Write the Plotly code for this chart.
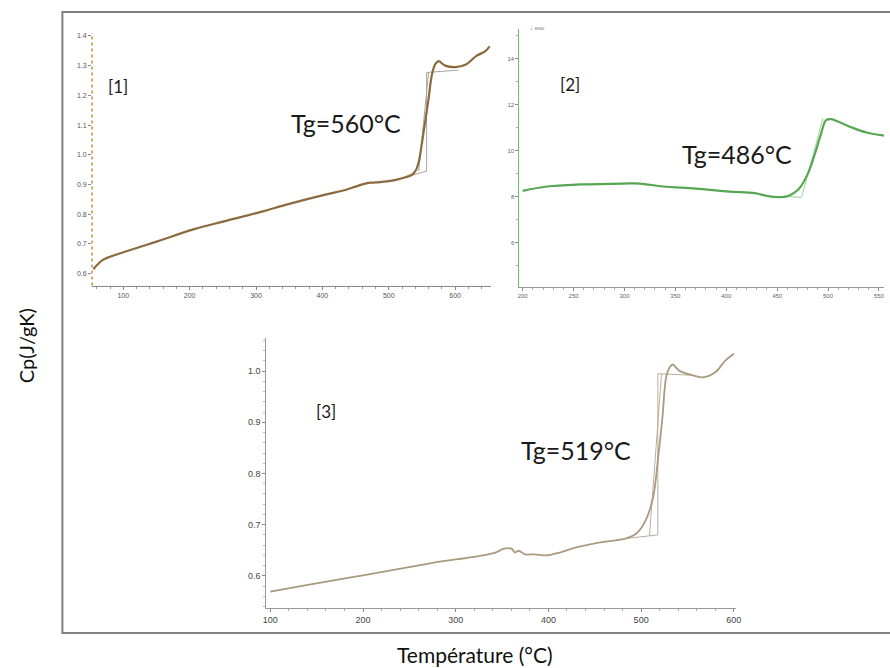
import plotly.graph_objects as go

# ---------- data ----------
# Panel [1]
t1 = [55, 60, 68, 80, 100, 150, 207, 250, 306, 350, 406, 430, 450, 466, 480, 505, 520, 535, 540, 545, 550, 555, 560, 565, 570, 575, 585, 600, 617, 632, 645, 652]
cp1 = [0.615, 0.628, 0.645, 0.657, 0.672, 0.708, 0.750, 0.775, 0.807, 0.835, 0.867, 0.879, 0.893, 0.904, 0.907, 0.913, 0.921, 0.933, 0.945, 0.975, 1.04, 1.115, 1.19, 1.27, 1.305, 1.315, 1.30, 1.295, 1.305, 1.333, 1.348, 1.365]
c1_x = [530, 557, None, 557, 557, None, 557, 605, None, 545, 560]
c1_y = [0.928, 0.945, None, 0.945, 1.277, None, 1.277, 1.285, None, 0.945, 1.277]

# Panel [2]
t2 = [200, 224, 257, 299, 315, 338, 370, 403, 428, 441, 451, 461, 471, 480, 487, 493, 498, 503, 512, 525, 538, 555]
cp2 = [8.26, 8.45, 8.54, 8.58, 8.58, 8.45, 8.36, 8.23, 8.16, 8.03, 7.99, 8.04, 8.33, 8.99, 9.86, 10.72, 11.33, 11.38, 11.23, 10.99, 10.80, 10.66]
c2_x = [457, 474, None, 474, 495]
c2_y = [8.04, 7.97, None, 7.97, 11.42]

# Panel [3]
t3 = [100, 139, 200, 271, 342, 352, 360, 364, 368, 375, 385, 399, 413, 431, 449, 466, 484, 495, 505, 513, 518, 523, 527, 531, 534, 541, 555, 566, 580, 591, 600]
cp3 = [0.569, 0.582, 0.601, 0.624, 0.645, 0.653, 0.653, 0.646, 0.649, 0.642, 0.642, 0.640, 0.646, 0.656, 0.663, 0.668, 0.673, 0.683, 0.709, 0.754, 0.826, 0.910, 0.988, 1.008, 1.013, 1.001, 0.992, 0.988, 0.998, 1.021, 1.034]
c3_x = [484, 518, None, 518, 518, None, 518, 555, None, 509, 522]
c3_y = [0.673, 0.680, None, 0.680, 0.995, None, 0.995, 0.992, None, 0.678, 0.995]

W, H = 890, 668

def px_x(p):
    return p / W

def px_y(p):
    return 1 - p / H

fig = go.Figure()

fig.add_trace(go.Scatter(x=c1_x, y=c1_y, mode="lines", line=dict(color="#a9a39a", width=1), xaxis="x", yaxis="y", showlegend=False))
fig.add_trace(go.Scatter(x=t1, y=cp1, mode="lines", line=dict(color="#8B6A3E", width=2.2, shape="spline"), xaxis="x", yaxis="y", showlegend=False))

fig.add_trace(go.Scatter(x=c2_x, y=c2_y, mode="lines", line=dict(color="#9fd49c", width=1), xaxis="x2", yaxis="y2", showlegend=False))
fig.add_trace(go.Scatter(x=t2, y=cp2, mode="lines", line=dict(color="#56A653", width=2.2, shape="spline"), xaxis="x2", yaxis="y2", showlegend=False))

fig.add_trace(go.Scatter(x=c3_x, y=c3_y, mode="lines", line=dict(color="#b9ae9c", width=1), xaxis="x3", yaxis="y3", showlegend=False))
fig.add_trace(go.Scatter(x=t3, y=cp3, mode="lines", line=dict(color="#A99A80", width=1.8, shape="spline"), xaxis="x3", yaxis="y3", showlegend=False))

tickfont_small = dict(family="Liberation Sans", size=7, color="#555")
tickfont_mid = dict(family="Liberation Sans", size=9, color="#444")

common = dict(showgrid=False, zeroline=False, ticks="outside", ticklen=3, tickcolor="#888", linewidth=1)

fig.update_layout(
    width=W, height=H,
    margin=dict(l=0, r=0, t=0, b=0),
    paper_bgcolor="white", plot_bgcolor="rgba(0,0,0,0)",
    showlegend=False,
    xaxis=dict(domain=[px_x(90), px_x(493)], range=[53, 654], anchor="y", tickvals=[100, 200, 300, 400, 500, 600],
               tickfont=tickfont_small, linecolor="#888", showline=True,
               minor=dict(ticks="outside", ticklen=2, dtick=20, tickcolor="#999"), **common),
    yaxis=dict(domain=[px_y(285), px_y(32)], range=[0.56, 1.41], anchor="x", tickvals=[0.6, 0.7, 0.8, 0.9, 1.0, 1.1, 1.2, 1.3, 1.4],
               ticktext=["0.6", "0.7", "0.8", "0.9", "1.0", "1.1", "1.2", "1.3", "1.4"],
               tickfont=tickfont_small, showline=False, **common),
    xaxis2=dict(domain=[px_x(521.7), 1.0], range=[196.8, 555], anchor="y2", tickvals=[200, 250, 300, 350, 400, 450, 500, 550],
                tickfont=dict(family="Liberation Sans", size=6, color="#666"), linecolor="#999", showline=True,
                minor=dict(ticks="outside", ticklen=2, dtick=10, tickcolor="#aaa"), **common),
    yaxis2=dict(domain=[px_y(286.7), px_y(28)], range=[4.07, 15.3], anchor="x2", tickvals=[6, 8, 10, 12, 14],
                tickfont=dict(family="Liberation Sans", size=6, color="#666"), linecolor="#6cc46a", showline=True,
                minor=dict(ticks="outside", ticklen=2, dtick=1, tickcolor="#aaa"), **common),
    xaxis3=dict(domain=[px_x(266), px_x(740)], range=[95.7, 601.8], anchor="y3", tickvals=[100, 200, 300, 400, 500, 600],
                tickfont=tickfont_mid, linecolor="#999", showline=True,
                minor=dict(ticks="outside", ticklen=2, dtick=20, tickcolor="#aaa"), **common),
    yaxis3=dict(domain=[px_y(607.7), px_y(338)], range=[0.5375, 1.0638], anchor="x3", tickvals=[0.6, 0.7, 0.8, 0.9, 1.0],
                ticktext=["0.6", "0.7", "0.8", "0.9", "1.0"],
                tickfont=tickfont_mid, linecolor="#999", showline=True,
                minor=dict(ticks="outside", ticklen=2, dtick=0.02, tickcolor="#bbb"), **common),
)

# outer frame
fig.add_shape(type="rect", xref="paper", yref="paper", x0=px_x(60), x1=1.05, y0=px_y(633), y1=px_y(11),
              line=dict(color="#808080", width=2), fillcolor="rgba(0,0,0,0)", layer="below")
# dotted orange y-axis line of panel [1]
fig.add_shape(type="line", xref="x domain", yref="y domain", x0=0, x1=0, y0=0, y1=1,
              line=dict(color="#c98d3c", width=1.5, dash="dot"))

ann_font = dict(family="Lato", color="#1a1a1a")
labels = [
    ("[1]", 116, 86, 17),
    ("Tg=560°C", 346, 122, 25),
    ("[2]", 573, 84, 17),
    ("Tg=486°C", 742, 153, 25),
    ("[3]", 326, 411, 17),
    ("Tg=519°C", 579, 450, 25),
]
for txt, x, y, s in labels:
    fig.add_annotation(text=txt, x=px_x(x), y=px_y(y), xref="paper", yref="paper", showarrow=False,
                       xanchor="center", yanchor="middle", font=dict(size=s, **ann_font))

fig.add_annotation(text="↓ exo", x=px_x(530), y=px_y(27), xref="paper", yref="paper", showarrow=False,
                   xanchor="left", yanchor="middle", font=dict(size=6, color="#777", family="Liberation Sans"))

fig.add_annotation(text="Cp(J/gK)", x=px_x(24), y=px_y(345), xref="paper", yref="paper", showarrow=False, textangle=-90,
                   xanchor="center", yanchor="middle", font=dict(size=20, family="Lato", color="#111"))
fig.add_annotation(text="Température (°C)", x=px_x(477), y=px_y(654), xref="paper", yref="paper", showarrow=False,
                   xanchor="center", yanchor="middle", font=dict(size=21, family="Lato", color="#111"))

fig.write_html("out.html", config={"displayModeBar": False},
               post_script="document.body.style.margin='0';document.body.style.overflow='hidden';")
